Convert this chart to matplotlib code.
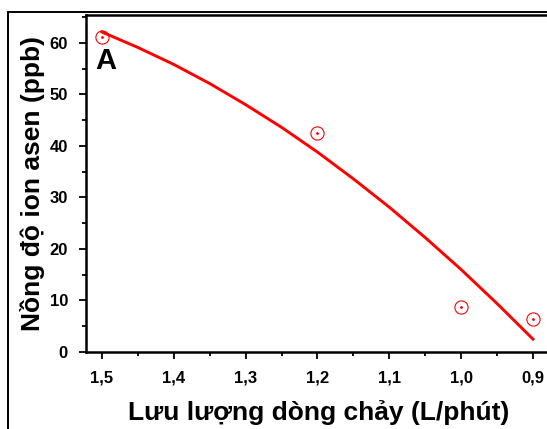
import matplotlib
matplotlib.use("Agg")
import matplotlib.pyplot as plt
from matplotlib.patches import Rectangle
from matplotlib.ticker import MultipleLocator, FuncFormatter

# so lieu do duoc (doc tu hinh)
flow = [1.5, 1.2, 1.0, 0.9]
arsenic = [61.2, 42.5, 8.7, 6.5]

# duong fit (doc tu hinh)
fit_flow = [1.5, 1.45, 1.4, 1.35, 1.3, 1.25, 1.2, 1.15, 1.1, 1.05, 1.0, 0.95, 0.9]
fit_arsenic = [62.1, 59.1, 55.8, 52.1, 48.0, 43.6, 38.8, 33.6, 28.1, 22.2, 16.0, 9.4, 2.5]

plt.rcParams['font.family'] = ['Liberation Sans', 'DejaVu Sans']
plt.rcParams['font.weight'] = 'bold'

W, H = 547, 429
fig = plt.figure(figsize=(W / 100, H / 100), dpi=100)

# khung ngoai
fig.patches.append(Rectangle((8 / W, -0.1), 1.2, 1.1 - 12.5 / H, transform=fig.transFigure,
                             fill=False, edgecolor='black', linewidth=1.4))

left, right, top, bottom = 86, 552, 15, 352
ax = fig.add_axes([left / W, 1 - bottom / H, (right - left) / W, (bottom - top) / H])

ax.plot(fit_flow, fit_arsenic, color='red', linewidth=2.1, zorder=2)
ax.plot(flow, arsenic, linestyle='none', marker='o', markersize=9.5, markerfacecolor='none',
        markeredgecolor='red', markeredgewidth=0.8, zorder=3)
ax.plot(flow, arsenic, linestyle='none', marker='o', markersize=1.0, color='red', zorder=3)

ax.set_xlim(1.5 + 16 / 718.3, 0.9 - 19 / 718.3)
ax.set_ylim(0, 65.4)

ax.xaxis.set_major_locator(MultipleLocator(0.1))
ax.xaxis.set_minor_locator(MultipleLocator(0.05))
ax.yaxis.set_major_locator(MultipleLocator(10))
ax.yaxis.set_minor_locator(MultipleLocator(5))
ax.xaxis.set_major_formatter(FuncFormatter(lambda v, p: f"{v:.1f}".replace('.', ',')))

for s in ax.spines.values():
    s.set_linewidth(1.8)
ax.tick_params(which='major', direction='out', length=5, width=1.3, labelsize=12, pad=8)
ax.tick_params(which='minor', direction='out', length=3, width=1.3)
for lab in ax.get_xticklabels() + ax.get_yticklabels():
    lab.set_fontweight('bold')

ax.set_xlabel('Lưu lượng dòng chảy (L/phút)', fontsize=19, fontweight='bold', labelpad=11)
ax.set_ylabel('Nồng độ ion asen (ppb)', fontsize=19, fontweight='bold', labelpad=3)

ax.text(0.02, 0.905, 'A', transform=ax.transAxes, fontsize=21, fontweight='bold',
        ha='left', va='top')

fig.savefig('out.png', dpi=100)
